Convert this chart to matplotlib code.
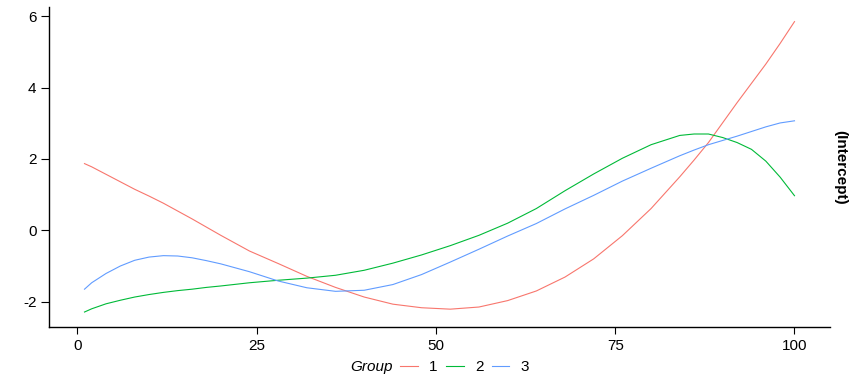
import matplotlib
matplotlib.use("Agg")
import matplotlib.pyplot as plt
from matplotlib import font_manager

x = [1, 2, 4, 6, 8, 10, 12, 14, 16, 18, 20, 24, 28, 32, 36, 40, 44, 48, 52, 56, 60, 64, 68, 72, 76, 80,
     84, 86, 88, 90, 92, 94, 96, 98, 100]
group1 = [1.87, 1.78, 1.57, 1.36, 1.15, 0.96, 0.76, 0.54, 0.32, 0.09, -0.14, -0.58, -0.93, -1.29, -1.60, -1.87,
          -2.07, -2.17, -2.21, -2.15, -1.97, -1.70, -1.31, -0.80, -0.15, 0.61,
          1.50, 1.97, 2.46, 3.02, 3.58, 4.12, 4.66, 5.24, 5.85]
group2 = [-2.29, -2.20, -2.06, -1.96, -1.87, -1.80, -1.74, -1.69, -1.65, -1.60, -1.56, -1.47, -1.40, -1.34, -1.26,
          -1.12, -0.92, -0.69, -0.43, -0.14, 0.20, 0.61, 1.11, 1.58, 2.02, 2.40,
          2.66, 2.70, 2.70, 2.60, 2.46, 2.27, 1.94, 1.49, 0.97]
group3 = [-1.65, -1.47, -1.21, -1.00, -0.84, -0.75, -0.71, -0.72, -0.77, -0.85, -0.94, -1.16, -1.42, -1.61, -1.71,
          -1.68, -1.52, -1.24, -0.89, -0.53, -0.16, 0.19, 0.60, 0.98, 1.38, 1.74,
          2.09, 2.25, 2.40, 2.52, 2.64, 2.77, 2.90, 3.01, 3.07]
groups = ["1", "2", "3"]
colors = ["#F8766D", "#00BA38", "#619CFF"]
xticks = [0, 25, 50, 75, 100]
yticks = [-2, 0, 2, 4, 6]

names = {f.name for f in font_manager.fontManager.ttflist}
base = "Liberation Sans" if "Liberation Sans" in names else "DejaVu Sans"
plt.rcParams["font.family"] = [base, "DejaVu Sans"]

fig = plt.figure(figsize=(8.64, 3.84), dpi=100)
ax = fig.add_axes([49/864, 1-327/384, (830-49)/864, (327-7)/384])

handles = []
for vals, c, g in zip([group1, group2, group3], colors, groups):
    h, = ax.plot(x, vals, color=c, lw=0.8, label=g)
    handles.append(h)

ax.set_xlim(-3.95, 104.95)
ax.set_ylim(-2.71, 6.26)
ax.set_xticks(xticks)
ax.set_yticks(yticks)
ax.set_xticklabels([str(t) for t in xticks], fontsize=11)
ax.set_yticklabels([str(t) for t in yticks], fontsize=11)
for s in ["top", "right"]:
    ax.spines[s].set_visible(False)
for s in ["left", "bottom"]:
    ax.spines[s].set_linewidth(1.0)
    ax.spines[s].set_color("black")
ax.tick_params(axis="y", length=6, width=0.8, pad=3, colors="black")
ax.tick_params(axis="x", length=5, width=0.8, pad=4, colors="black")

fig.text(840/864, 1-167/384, "(Intercept)", rotation=-90, fontweight="bold", fontsize=11,
         ha="center", va="center")

fig.text(350/864, 1-367/384, "Group", style="italic", fontsize=11, ha="left", va="center")
fig.legend(handles=handles, labels=groups, loc="center left", bbox_to_anchor=(400/864, 1-367/384),
           ncol=3, frameon=False, fontsize=11, handlelength=1.15, handletextpad=0.75,
           columnspacing=0.55, borderaxespad=0, borderpad=0)

fig.savefig("out.png", dpi=100)
